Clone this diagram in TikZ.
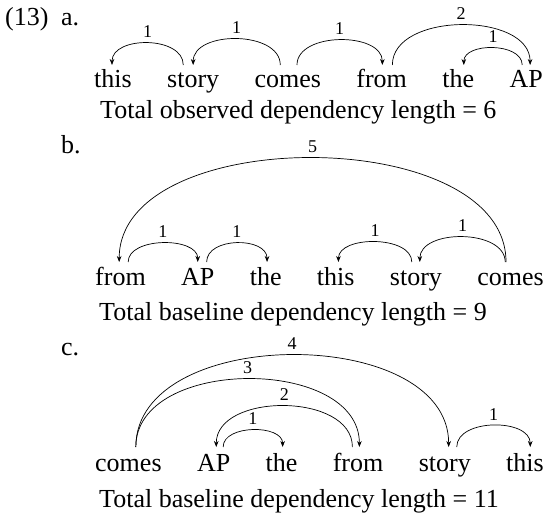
\documentclass[tikz,border=0pt]{standalone}
\usepackage{fontspec}
\setmainfont{Liberation Serif}
\usetikzlibrary{arrows.meta}
\tikzset{
  word/.style={inner sep=0pt, anchor=base west, font=\fontsize{26}{30}\selectfont},
  lab/.style={inner sep=0pt, anchor=south, yshift=5pt, font=\fontsize{18}{18}\selectfont},
  dep/.style={line width=0.7pt, -{Stealth[length=6pt,width=4.6pt]}},
}
\begin{document}
\begin{tikzpicture}[x=1pt,y=-1pt]
\useasboundingbox (0,0) rectangle (545,514);
% example labels
\node[word] (num) at (5,25) {(13)};
\node[word] (la) at (61,25) {a.};
\node[word] (lb) at (61,153) {b.};
\node[word] (lc) at (61,355) {c.};
% row a
\node[word] (a1) at (94,87) {this};
\node[word] (a2) at ([xshift=35pt]a1.base east) {story};
\node[word] (a3) at ([xshift=35pt]a2.base east) {comes};
\node[word] (a4) at ([xshift=35pt]a3.base east) {from};
\node[word] (a5) at ([xshift=35pt]a4.base east) {the};
\node[word] (a6) at ([xshift=35pt]a5.base east) {AP};
\node[word] (capa) at (100,118) {Total observed dependency length = 6};
\draw[dep] ([xshift=-9.9pt,yshift=22pt]a2.base) .. controls +(0,-29.3) and +(0,-29.3) .. ([xshift=-1pt,yshift=22pt]a1.base) node[lab,pos=.5] {1};
\draw[dep] ([xshift=-7.5pt,yshift=22pt]a3.base) .. controls +(0,-34.7) and +(0,-34.7) .. ([xshift=0pt,yshift=22pt]a2.base) node[lab,pos=.5] {1};
\draw[dep] ([xshift=9.2pt,yshift=22pt]a3.base) .. controls +(0,-33.3) and +(0,-33.3) .. ([xshift=0.7pt,yshift=22pt]a4.base) node[lab,pos=.5] {1};
\draw[dep] ([xshift=10.7pt,yshift=22pt]a4.base) .. controls +(0,-53.3) and +(0,-53.3) .. ([xshift=4pt,yshift=22pt]a6.base) node[lab,pos=.5] {2};
\draw[dep] ([xshift=-3.9pt,yshift=22pt]a6.base) .. controls +(0,-22.7) and +(0,-22.7) .. ([xshift=5.6pt,yshift=22pt]a5.base) node[lab,pos=.5] {1};
% row b
\node[word] (b1) at (95,285) {from};
\node[word] (b2) at ([xshift=35pt]b1.base east) {AP};
\node[word] (b3) at ([xshift=35pt]b2.base east) {the};
\node[word] (b4) at ([xshift=35pt]b3.base east) {this};
\node[word] (b5) at ([xshift=35pt]b4.base east) {story};
\node[word] (b6) at ([xshift=35pt]b5.base east) {comes};
\node[word] (capb) at (99,320) {Total baseline dependency length = 9};
\draw[dep] ([xshift=7.7pt,yshift=23pt]b1.base) .. controls +(0,-25.3) and +(0,-25.3) .. ([xshift=0pt,yshift=23pt]b2.base) node[lab,pos=.5] {1};
\draw[dep] ([xshift=8.9pt,yshift=23pt]b2.base) .. controls +(0,-25.3) and +(0,-25.3) .. ([xshift=1.4pt,yshift=23pt]b3.base) node[lab,pos=.5] {1};
\draw[dep] ([xshift=-4.1pt,yshift=23pt]b5.base) .. controls +(0,-26.7) and +(0,-26.7) .. ([xshift=2.7pt,yshift=23pt]b4.base) node[lab,pos=.5] {1};
\draw[dep] ([xshift=-5.3pt,yshift=23pt]b6.base) .. controls +(0,-33.3) and +(0,-33.3) .. ([xshift=3.9pt,yshift=23pt]b5.base) node[lab,pos=.5] {1};
\draw[dep] ([xshift=-4.5pt,yshift=23pt]b6.base) .. controls +(0,-138.7) and +(0,-138.7) .. ([xshift=-1.3pt,yshift=23pt]b1.base) node[lab,pos=.5] {5};
% row c
\node[word] (c1) at (95,471) {comes};
\node[word] (c2) at ([xshift=35pt]c1.base east) {AP};
\node[word] (c3) at ([xshift=35pt]c2.base east) {the};
\node[word] (c4) at ([xshift=35pt]c3.base east) {from};
\node[word] (c5) at ([xshift=35pt]c4.base east) {story};
\node[word] (c6) at ([xshift=35pt]c5.base east) {this};
\node[word] (capc) at (99,507) {Total baseline dependency length = 11};
\draw[dep] ([xshift=7.4pt,yshift=24pt]c1.base) .. controls +(0,-122.7) and +(0,-122.7) .. ([xshift=3.9pt,yshift=24pt]c5.base) node[lab,pos=.5] {4};
\draw[dep] ([xshift=7.4pt,yshift=24pt]c1.base) .. controls +(0,-90.7) and +(0,-90.7) .. ([xshift=1.3pt,yshift=24pt]c4.base) node[lab,pos=.5] {3};
\draw[dep] ([xshift=-5.7pt,yshift=24pt]c4.base) .. controls +(0,-54.7) and +(0,-54.7) .. ([xshift=2.6pt,yshift=24pt]c2.base) node[lab,pos=.5] {2};
\draw[dep] ([xshift=9.5pt,yshift=24pt]c2.base) .. controls +(0,-22.7) and +(0,-22.7) .. ([xshift=1.1pt,yshift=24pt]c3.base) node[lab,pos=.5] {1};
\draw[dep] ([xshift=12pt,yshift=24pt]c5.base) .. controls +(0,-28.8) and +(0,-28.8) .. ([xshift=5.3pt,yshift=24pt]c6.base) node[lab,pos=.5] {1};
\end{tikzpicture}
\end{document}
